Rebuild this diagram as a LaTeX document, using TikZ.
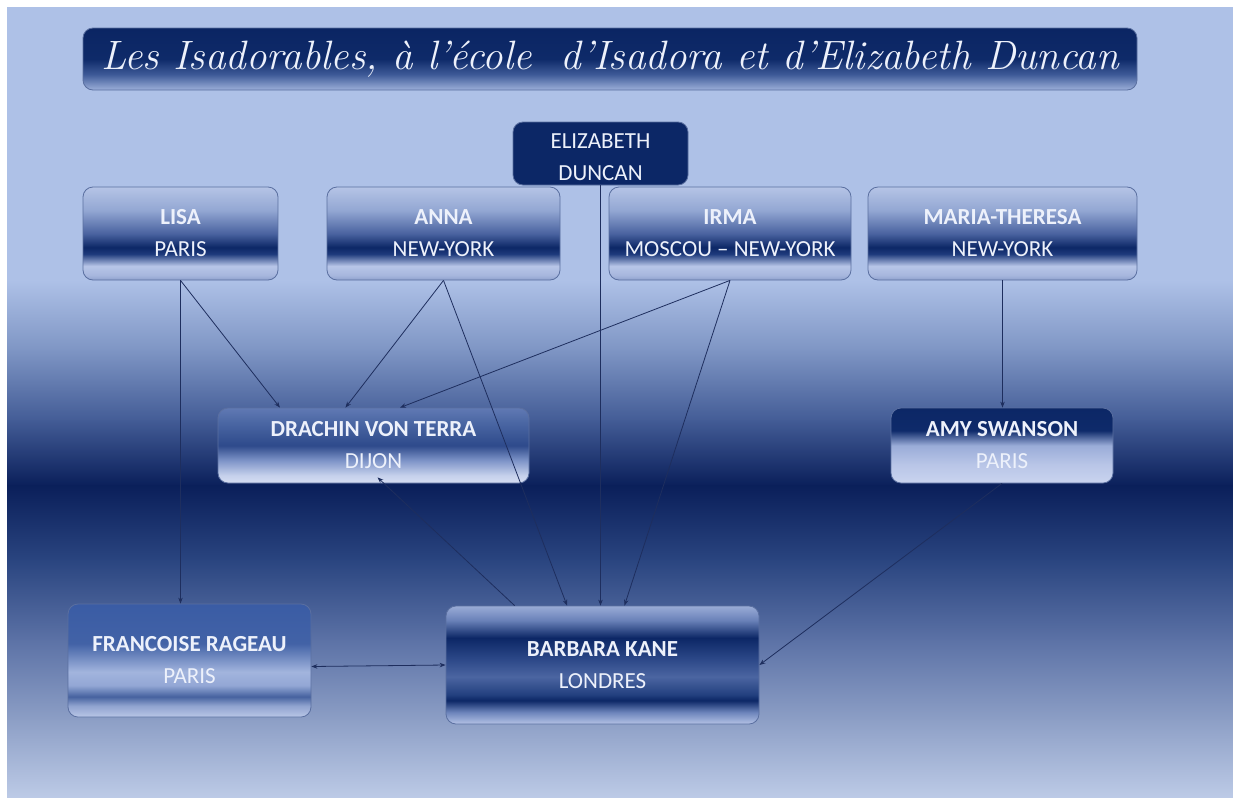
\documentclass[tikz,border=0pt]{standalone}
\usepackage{fontspec}
\newfontfamily\boxfont{Carlito}
\usetikzlibrary{arrows.meta,calc}
\definecolor{bgTop}{HTML}{AEC1E7}
\definecolor{bgA}{HTML}{7E95C4}
\definecolor{bgB}{HTML}{435C96}
\definecolor{bgC}{HTML}{0A1F5A}
\definecolor{bgD}{HTML}{2A4580}
\definecolor{bgE}{HTML}{5C72A6}
\definecolor{bgF}{HTML}{8D9FC6}
\definecolor{bgG}{HTML}{BCCAE6}
\definecolor{navy}{HTML}{0C2766}
\definecolor{borderC}{HTML}{5A6FA0}
\definecolor{lineC}{HTML}{1E2E5E}
\definecolor{txtC}{HTML}{EDF1FB}
\pgfdeclareverticalshading{toprowS}{100bp}{color(0bp)=(rgb,255:red,143;green,161;blue,206); color(25bp)=(rgb,255:red,143;green,161;blue,206); color(27.5bp)=(rgb,255:red,166;green,182;blue,221); color(32.5bp)=(rgb,255:red,184;green,198;blue,232); color(39bp)=(rgb,255:red,30;green,58;blue,124); color(42.5bp)=(rgb,255:red,12;green,39;blue,102); color(50bp)=(rgb,255:red,74;green,99;blue,160); color(62.5bp)=(rgb,255:red,147;green,167;blue,211); color(75bp)=(rgb,255:red,181;green,196;blue,230); color(100bp)=(rgb,255:red,181;green,196;blue,230)}
\pgfdeclareverticalshading{drachinS}{100bp}{color(0bp)=(rgb,255:red,213;green,221;blue,242); color(25bp)=(rgb,255:red,213;green,221;blue,242); color(30bp)=(rgb,255:red,198;green,209;blue,236); color(40bp)=(rgb,255:red,126;green,148;blue,200); color(50bp)=(rgb,255:red,46;green,74;blue,139); color(65bp)=(rgb,255:red,74;green,102;blue,163); color(75bp)=(rgb,255:red,96;green,121;blue,179); color(100bp)=(rgb,255:red,96;green,121;blue,179)}
\pgfdeclareverticalshading{amyS}{100bp}{color(0bp)=(rgb,255:red,202;green,212;blue,239); color(25bp)=(rgb,255:red,202;green,212;blue,239); color(37.5bp)=(rgb,255:red,184;green,197;blue,231); color(50bp)=(rgb,255:red,154;green,172;blue,216); color(60bp)=(rgb,255:red,14;green,42;blue,106); color(75bp)=(rgb,255:red,12;green,39;blue,102); color(100bp)=(rgb,255:red,12;green,39;blue,102)}
\pgfdeclareverticalshading{francS}{100bp}{color(0bp)=(rgb,255:red,185;green,198;blue,230); color(25bp)=(rgb,255:red,185;green,198;blue,230); color(30bp)=(rgb,255:red,144;green,163;blue,207); color(34bp)=(rgb,255:red,70;green,98;blue,159); color(39bp)=(rgb,255:red,147;green,167;blue,213); color(45bp)=(rgb,255:red,162;green,180;blue,221); color(57.5bp)=(rgb,255:red,66;green,98;blue,166); color(75bp)=(rgb,255:red,58;green,92;blue,165); color(100bp)=(rgb,255:red,58;green,92;blue,165)}
\pgfdeclareverticalshading{barbaraS}{100bp}{color(0bp)=(rgb,255:red,180;green,194;blue,229); color(25bp)=(rgb,255:red,180;green,194;blue,229); color(30bp)=(rgb,255:red,108;green,132;blue,187); color(35bp)=(rgb,255:red,12;green,39;blue,102); color(37.5bp)=(rgb,255:red,35;green,64;blue,127); color(45bp)=(rgb,255:red,75;green,101;blue,161); color(52.5bp)=(rgb,255:red,44;green,72;blue,136); color(61.5bp)=(rgb,255:red,12;green,39;blue,102); color(69bp)=(rgb,255:red,106;green,130;blue,185); color(75bp)=(rgb,255:red,154;green,172;blue,214); color(100bp)=(rgb,255:red,154;green,172;blue,214)}
\pgfdeclareverticalshading{titleS}{100bp}{color(0bp)=(rgb,255:red,156;green,175;blue,217); color(25bp)=(rgb,255:red,156;green,175;blue,217); color(37.5bp)=(rgb,255:red,62;green,90;blue,152); color(50bp)=(rgb,255:red,14;green,42;blue,105); color(75bp)=(rgb,255:red,11;green,37;blue,99); color(100bp)=(rgb,255:red,11;green,37;blue,99)}
\tikzset{
  box/.style={draw=borderC, line width=0.8pt, rounded corners=10pt, inner sep=0pt, align=center, text=txtC, font=\boxfont\fontsize{23}{32}\selectfont},
  link/.style={draw=lineC, line width=0.8pt, -{Stealth[length=6pt,width=4.5pt]}},
  dlink/.style={draw=lineC, line width=0.8pt, {Stealth[length=6pt,width=4.5pt]}-{Stealth[length=6pt,width=4.5pt]}}
}
\begin{document}
\begin{tikzpicture}[x=1pt,y=-1pt]
\useasboundingbox (0,0) rectangle (1233,798);
\fill[white] (0,0) rectangle (1233,798);
\fill[bgTop] (7,7) rectangle (1233,281);
\shade[top color=bgTop, bottom color=bgA] (7,280) rectangle (1233,351);
\shade[top color=bgA, bottom color=bgB] (7,350) rectangle (1233,421);
\shade[top color=bgB, bottom color=bgC] (7,420) rectangle (1233,486);
\shade[top color=bgC, bottom color=bgD] (7,485) rectangle (1233,561);
\shade[top color=bgD, bottom color=bgE] (7,560) rectangle (1233,641);
\shade[top color=bgE, bottom color=bgF] (7,640) rectangle (1233,721);
\shade[top color=bgF, bottom color=bgG] (7,720) rectangle (1233,797);

\node[box, shading=titleS, minimum width=1054pt, minimum height=62pt, font=\itshape\fontsize{41}{44}\selectfont] (title) at (610,59) {Les Isadorables, à l’école\ \ d’Isadora et d’Elizabeth Duncan};
\node[box, fill=navy, minimum width=175pt, minimum height=63pt] (eliz) at (600.5,153.5) {\rule{0pt}{22pt}ELIZABETH\\DUNCAN};
\node[box, shading=toprowS, minimum width=195pt, minimum height=93pt] (lisa) at (180.5,233.5) {\textbf{LISA}\\PARIS};
\node[box, shading=toprowS, minimum width=233pt, minimum height=93pt] (anna) at (443.5,233.5) {\textbf{ANNA}\\NEW-YORK};
\node[box, shading=toprowS, minimum width=242pt, minimum height=93pt] (irma) at (730,233.5) {\textbf{IRMA}\\MOSCOU – NEW-YORK};
\node[box, shading=toprowS, minimum width=269pt, minimum height=93pt] (maria) at (1002.5,233.5) {\textbf{MARIA-THERESA}\\NEW-YORK};
\node[box, shading=drachinS, minimum width=311pt, minimum height=75pt] (drachin) at (373.5,445.5) {\textbf{DRACHIN VON TERRA}\\DIJON};
\node[box, shading=amyS, minimum width=222pt, minimum height=75pt] (amy) at (1002,445.5) {\textbf{AMY SWANSON}\\PARIS};
\node[box, shading=francS, minimum width=243pt, minimum height=113pt] (franc) at (189.5,660.5) {\textbf{FRANCOISE RAGEAU}\\PARIS};
\node[box, shading=barbaraS, minimum width=313pt, minimum height=118pt] (barbara) at (602.5,665) {\textbf{BARBARA KANE}\\LONDRES};

\draw[link] (eliz.south) -- (eliz.south |- barbara.north);
\draw[link] (lisa.south) -- (lisa.south |- franc.north);
\draw[link] (lisa.south) -- ($(drachin.north west)!0.2!(drachin.north east)$);
\draw[link] (anna.south) -- ($(drachin.north west)!0.41!(drachin.north east)$);
\draw[link] (anna.south) -- ($(barbara.north west)!0.387!(barbara.north east)$);
\draw[link] (irma.south) -- ($(drachin.north west)!0.585!(drachin.north east)$);
\draw[link] (irma.south) -- ($(barbara.north west)!0.57!(barbara.north east)$);
\draw[link] (maria.south) -- (maria.south |- amy.north);
\draw[link] (amy.south) -- (barbara.east);
\draw[link] ($(barbara.north west)!0.22!(barbara.north east)$) -- ([xshift=4pt,yshift=6pt]drachin.south);
\draw[dlink] ([yshift=-6pt]franc.east) -- (barbara.west);
\end{tikzpicture}
\end{document}
